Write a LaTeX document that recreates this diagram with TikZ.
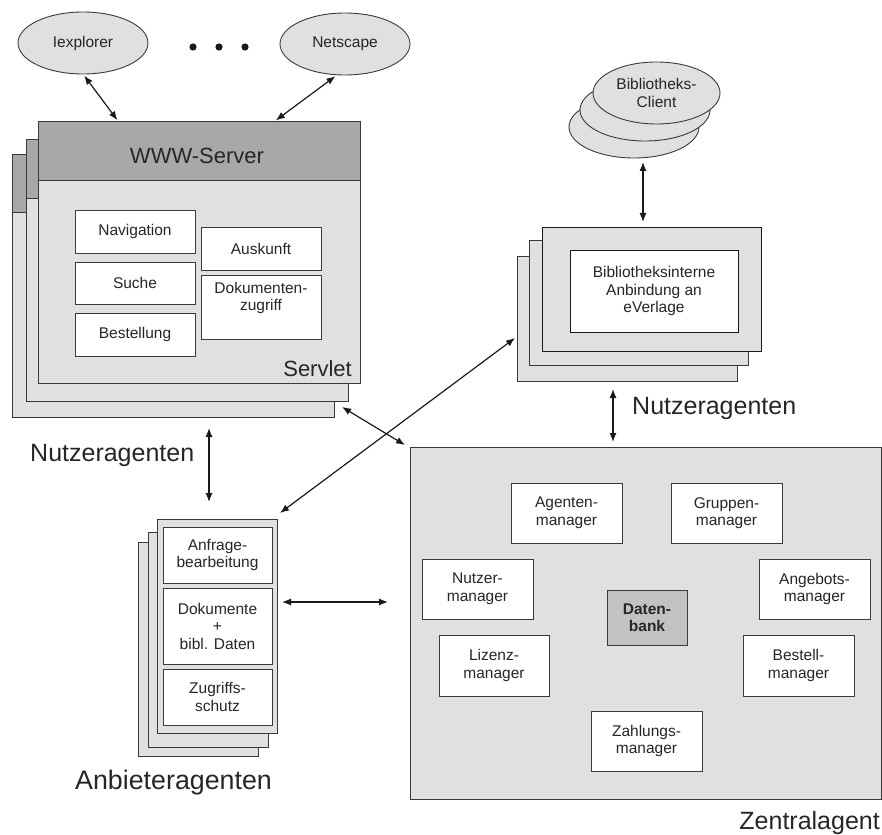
\documentclass[tikz,border=0pt]{standalone}
\usepackage{fontspec}
\setmainfont{Liberation Sans}
\usetikzlibrary{arrows.meta,calc,shapes.geometric}
\definecolor{lightg}{HTML}{E0E0E0}
\definecolor{darkg}{HTML}{A8A8A8}
\definecolor{dbg}{HTML}{C2C2C2}
\definecolor{linec}{HTML}{3A3A3A}
\begin{document}
\begin{tikzpicture}[x=1pt,y=-1pt,
  layer/.style={draw=linec, fill=lightg, line width=0.9pt, inner sep=0pt, outer sep=0pt},
  hdr/.style={draw=linec, fill=darkg, line width=0.9pt, inner sep=0pt, outer sep=0pt},
  inbox/.style={draw=linec, fill=white, line width=0.9pt, inner sep=0pt, outer sep=0pt, align=center,
     font=\fontsize{15.5}{17.5}\selectfont, text=black!85},
  ell/.style={ellipse, draw=linec, fill=lightg, line width=0.9pt, inner sep=0pt, outer sep=0pt,
     minimum width=130pt, minimum height=62pt, align=center, font=\fontsize{15.5}{18}\selectfont, text=black!85},
  big/.style={font=\fontsize{25}{30}\selectfont, text=black!85, inner sep=0pt},
  mid/.style={font=\fontsize{22}{26}\selectfont, text=black!85, inner sep=0pt},
  conn/.style={{Latex[length=9pt,width=7pt]}-{Latex[length=9pt,width=7pt]}, line width=1.2pt, draw=black!90}
]
\useasboundingbox (0,0) rectangle (882,834);

% browsers
\node[ell] (iex) at (83,43) {Iexplorer};
\node[ell] (nets) at (345,44) {Netscape};
\fill[black!90] (193,47) circle (3.6pt) (219,47) circle (3.6pt) (245,47) circle (3.6pt);

% WWW server stack
\node[layer, minimum width=322pt, minimum height=263pt] (www3) at (173,285.5) {};
\node[hdr, minimum width=322pt, minimum height=58pt, anchor=north west] (www3h) at (www3.north west) {};
\node[layer, minimum width=322pt, minimum height=262pt] (www2) at (187,270) {};
\node[hdr, minimum width=322pt, minimum height=59pt, anchor=north west] (www2h) at (www2.north west) {};
\node[layer, minimum width=322pt, minimum height=262pt] (www1) at (199,252) {};
\node[hdr, minimum width=322pt, minimum height=59pt, anchor=north west] (www1h) at (www1.north west) {};
\node[mid] (wwwt) at (197,156) {WWW-Server};
\node[mid, anchor=east] (servlet) at (352,369) {Servlet};

\node[inbox, minimum width=120pt, minimum height=43pt] (nav) at (135,231.5) {Navigation};
\node[inbox, minimum width=120pt, minimum height=42pt] (such) at (135,283) {Suche};
\node[inbox, minimum width=120pt, minimum height=43pt] (best) at (135,334.5) {Bestellung};
\node[inbox, minimum width=120pt, minimum height=43pt] (ausk) at (261,248.5) {Auskunft};
\node[inbox, minimum width=120pt, minimum height=64pt] (dokz) at (261,307) {Dokumenten-\\zugriff\\[4pt]};

% Bibliotheks-Client stack
\node[ell] (bib3) at (634,127) {};
\node[ell] (bib2) at (645,110) {};
\node[ell, minimum width=127pt] (bib1) at (656.5,93) {Bibliotheks-\\Client};

% Bibliotheksinterne stack
\node[layer, minimum width=220pt, minimum height=125pt] (bi3) at (627,318.5) {};
\node[layer, minimum width=219pt, minimum height=125pt] (bi2) at (638.5,302.5) {};
\node[layer, draw=black!90, minimum width=219pt, minimum height=124pt] (bi1) at (651.5,289) {};
\node[inbox, draw=black!90, minimum width=168pt, minimum height=82pt] (bii) at (654,291) {Bibliotheksinterne\\Anbindung an\\eVerlage};

% Zentralagent
\node[layer, minimum width=471pt, minimum height=352pt] (zen) at (645.5,623) {};
\node[inbox, minimum width=111pt, minimum height=60pt] (agm) at (566.5,513) {Agenten-\\manager};
\node[inbox, minimum width=111pt, minimum height=60pt] (grm) at (726.5,513) {Gruppen-\\manager};
\node[inbox, minimum width=111pt, minimum height=60pt] (num) at (477.5,589) {Nutzer-\\manager};
\node[inbox, minimum width=111pt, minimum height=60pt] (anm) at (814.5,589) {Angebots-\\manager};
\node[inbox, fill=dbg, minimum width=80pt, minimum height=55pt, font=\bfseries\fontsize{15.5}{17.5}\selectfont] (db) at (647,617.5) {Daten-\\bank};
\node[inbox, minimum width=110pt, minimum height=61pt] (lim) at (494,665.5) {Lizenz-\\manager};
\node[inbox, minimum width=111pt, minimum height=61pt] (bem) at (798.5,665.5) {Bestell-\\manager};
\node[inbox, minimum width=111pt, minimum height=60pt] (zam) at (646.5,741) {Zahlungs-\\manager};
\node[big, anchor=east] (zent) at (880,823) {Zentralagent};

% Anbieteragenten stack
\node[layer, minimum width=120pt, minimum height=214pt] (an3) at (198,649) {};
\node[layer, minimum width=120pt, minimum height=215pt] (an2) at (208,639.5) {};
\node[layer, minimum width=120pt, minimum height=214pt] (an1) at (217,626) {};
\node[inbox, minimum width=109pt, minimum height=56pt] (anf) at (217.5,555) {Anfrage-\\bearbeitung};
\node[inbox, minimum width=109pt, minimum height=76pt] (dokd) at (217.5,626) {Dokumente\\+\\bibl. Daten};
\node[inbox, minimum width=109pt, minimum height=56pt] (zug) at (217.5,697) {Zugriffs-\\schutz};
\node[big, anchor=west, font=\fontsize{26.8}{30}\selectfont] (anbt) at (75,783) {Anbieteragenten};

% labels
\node[big, anchor=west] (nutl) at (30,455) {Nutzeragenten};
\node[big, anchor=west] (nutr) at (632,408) {Nutzeragenten};

% connectors
\draw[conn, shorten <=2pt, shorten >=1pt] (iex.south) -- ($(www1h.north west)+(80,0)$);
\draw[conn, shorten <=1pt, shorten >=2pt] ($(www1h.north west)+(237,0)$) -- ($(nets.south)+(-8,0)$);
\draw[conn, shorten <=4pt, shorten >=5pt] ($(bib3.south)+(9,0)$) -- ($(bi1.north)+(-8.5,0)$);
\draw[conn, shorten <=8pt, shorten >=5pt] ($(bi3.south west)+(96,0)$) -- ($(zen.north west)+(203,0)$);
\draw[conn, shorten <=11pt, shorten >=17pt] ($(www3.south west)+(197,0)$) -- ($(an1.north west)+(52,0)$);
\draw[conn, shorten <=5pt, shorten >=22pt] ($(an1.north east)+(0,83)$) -- ($(zen.north west)+(0,155)$);
\draw[conn] ($(bi3.north west)+(-2,82)$) -- ($(an1.north east)+(3,-6)$);
\draw[conn] ($(www2.south east)+(-6,6)$) -- ($(zen.north west)+(-5,-2)$);
\end{tikzpicture}
\end{document}
